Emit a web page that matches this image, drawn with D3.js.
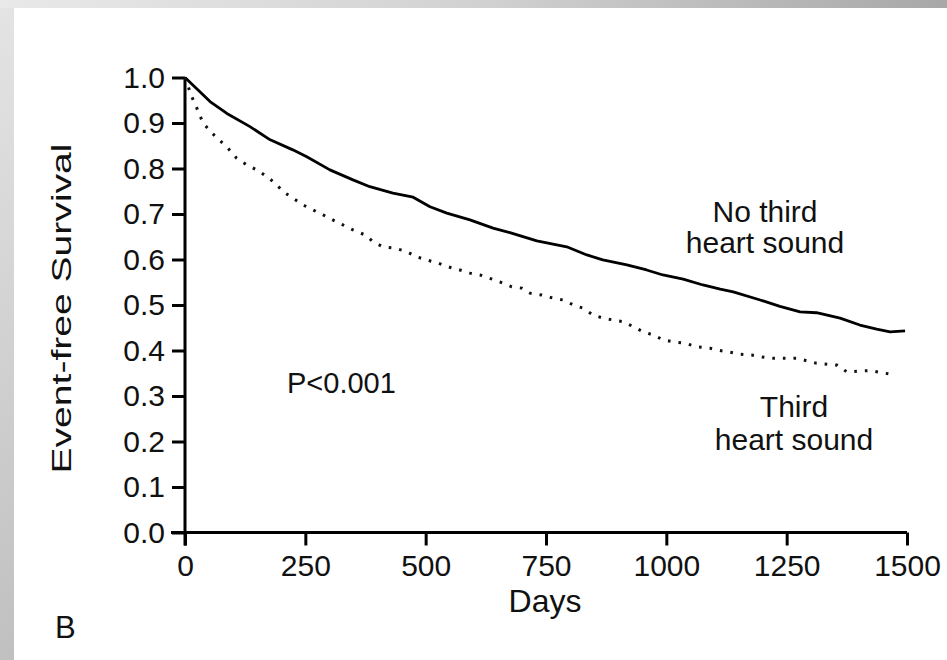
<!DOCTYPE html>
<html>
<head>
<meta charset="utf-8">
<script src="https://cdn.jsdelivr.net/npm/d3@7"></script>
<style>
  html, body { margin: 0; padding: 0; background: #fff; }
  svg { display: block; }
  text { font-family: "Liberation Sans", Arial, sans-serif; fill: #111; }
</style>
</head>
<body>
<script>
// ---- data ----
const xTicks = [0, 250, 500, 750, 1000, 1250, 1500];
const yTicks = [0, 0.1, 0.2, 0.3, 0.4, 0.5, 0.6, 0.7, 0.8, 0.9, 1.0];

const noS3Days = [0, 52, 87, 135, 177, 224, 253, 301, 349, 384, 432, 474, 509, 544, 592, 640, 675, 731, 793, 835, 868, 918, 959, 993, 1035, 1076, 1112, 1139, 1195, 1236, 1278, 1312, 1361, 1402, 1437, 1465, 1496];
const noS3Surv = [1.0, 0.947, 0.921, 0.892, 0.863, 0.841, 0.826, 0.797, 0.775, 0.760, 0.746, 0.737, 0.716, 0.702, 0.687, 0.669, 0.659, 0.641, 0.628, 0.610, 0.599, 0.588, 0.577, 0.566, 0.557, 0.544, 0.535, 0.529, 0.511, 0.497, 0.485, 0.483, 0.471, 0.456, 0.447, 0.441, 0.443];

const s3Days = [0, 5, 14, 27, 37, 53, 71, 89, 107, 128, 149, 170, 187, 204, 224, 245, 266, 287, 307, 328, 349, 374, 391, 411, 436, 461, 481, 502, 526, 546, 571, 592, 613, 654, 679, 700, 717, 741, 765, 786, 807, 827, 848, 869, 890, 911, 932, 952, 973, 994, 1015, 1039, 1063, 1091, 1105, 1129, 1153, 1177, 1198, 1222, 1271, 1312, 1354, 1375, 1423, 1465];
const s3Surv = [1.0, 0.985, 0.958, 0.927, 0.901, 0.881, 0.863, 0.845, 0.823, 0.808, 0.797, 0.782, 0.768, 0.749, 0.735, 0.720, 0.709, 0.698, 0.687, 0.676, 0.665, 0.654, 0.639, 0.628, 0.625, 0.617, 0.606, 0.599, 0.592, 0.584, 0.577, 0.570, 0.566, 0.551, 0.540, 0.537, 0.526, 0.522, 0.515, 0.511, 0.500, 0.493, 0.478, 0.471, 0.467, 0.463, 0.452, 0.441, 0.434, 0.423, 0.419, 0.416, 0.408, 0.405, 0.401, 0.397, 0.392, 0.390, 0.386, 0.383, 0.383, 0.372, 0.368, 0.353, 0.356, 0.348];

// ---- drawing ----
const W = 947, H = 660;
const svg = d3.select("body").append("svg").attr("width", W).attr("height", H);

const defs = svg.append("defs");
const gTop = defs.append("linearGradient").attr("id", "gTop").attr("x1", 0).attr("x2", 1).attr("y1", 0).attr("y2", 0);
gTop.append("stop").attr("offset", 0).attr("stop-color", "#e9e9e9");
gTop.append("stop").attr("offset", 0.5).attr("stop-color", "#d2d2d2");
gTop.append("stop").attr("offset", 1).attr("stop-color", "#a8a8a8");
const gLeft = defs.append("linearGradient").attr("id", "gLeft").attr("x1", 0).attr("x2", 0).attr("y1", 0).attr("y2", 1);
gLeft.append("stop").attr("offset", 0).attr("stop-color", "#e4e4e4");
gLeft.append("stop").attr("offset", 1).attr("stop-color", "#c0c0c0");

svg.append("rect").attr("x", 0).attr("y", 0).attr("width", W).attr("height", H).attr("fill", "#fff");
svg.append("rect").attr("x", 0).attr("y", 0).attr("width", 14).attr("height", H).attr("fill", "url(#gLeft)");
svg.append("rect").attr("x", 0).attr("y", 0).attr("width", W).attr("height", 8).attr("fill", "url(#gTop)");

const x = d3.scaleLinear().domain([0, 1500]).range([185, 907]);
const y = d3.scaleLinear().domain([0, 1]).range([532.5, 77.5]);

// axes
const xAxis = svg.append("g").attr("transform", `translate(0,${y(0)})`)
  .call(d3.axisBottom(x).tickValues(xTicks).tickSize(13).tickSizeOuter(0).tickPadding(9).tickFormat(d3.format("d")));
const yAxis = svg.append("g").attr("transform", `translate(${x(0)},0)`)
  .call(d3.axisLeft(y).tickValues(yTicks).tickSize(13).tickSizeOuter(0).tickPadding(7).tickFormat(d3.format(".1f")));
[xAxis, yAxis].forEach(g => {
  g.select(".domain").attr("stroke", "#000").attr("stroke-width", 3);
  g.selectAll(".tick line").attr("stroke", "#000").attr("stroke-width", 3);
  g.selectAll(".tick text").attr("font-size", 30).attr("fill", "#111")
    .attr("font-family", '"Liberation Sans", Arial, sans-serif');
});
// extend domains so the lines meet at the origin corner
xAxis.select(".domain").attr("d", `M${x(0) - 14},0H${x(1500)}`);
yAxis.select(".domain").attr("d", `M0,${y(0) + 13}V${y(1)}`);

// curves
const line = d3.line().x(d => x(d[0])).y(d => y(d[1]));
const noS3 = noS3Days.map((d, i) => [d, noS3Surv[i]]);
const s3 = s3Days.map((d, i) => [d, s3Surv[i]]);

svg.append("path").datum(noS3).attr("d", line)
  .attr("fill", "none").attr("stroke", "#000").attr("stroke-width", 2.8).attr("stroke-linejoin", "round");
svg.append("path").datum(s3).attr("d", line)
  .attr("fill", "none").attr("stroke", "#111").attr("stroke-width", 3)
  .attr("stroke-dasharray", "2.6 8");

// text labels
svg.append("text").attr("transform", `translate(71,308.5) rotate(-90)`)
  .attr("text-anchor", "middle").attr("font-size", 27)
  .attr("textLength", 330).attr("lengthAdjust", "spacingAndGlyphs")
  .text("Event-free Survival");

svg.append("text").attr("x", 545).attr("y", 612).attr("text-anchor", "middle").attr("font-size", 32).text("Days");
svg.append("text").attr("x", 55).attr("y", 638).attr("font-size", 31).text("B");
svg.append("text").attr("x", 287).attr("y", 393).attr("font-size", 29).text("P<0.001");

const lab1 = svg.append("text").attr("text-anchor", "middle").attr("font-size", 30);
lab1.append("tspan").attr("x", 765).attr("y", 222).text("No third");
lab1.append("tspan").attr("x", 765).attr("y", 253).text("heart sound");
const lab2 = svg.append("text").attr("text-anchor", "middle").attr("font-size", 30);
lab2.append("tspan").attr("x", 794).attr("y", 417).text("Third");
lab2.append("tspan").attr("x", 794).attr("y", 450).text("heart sound");
</script>
</body>
</html>
